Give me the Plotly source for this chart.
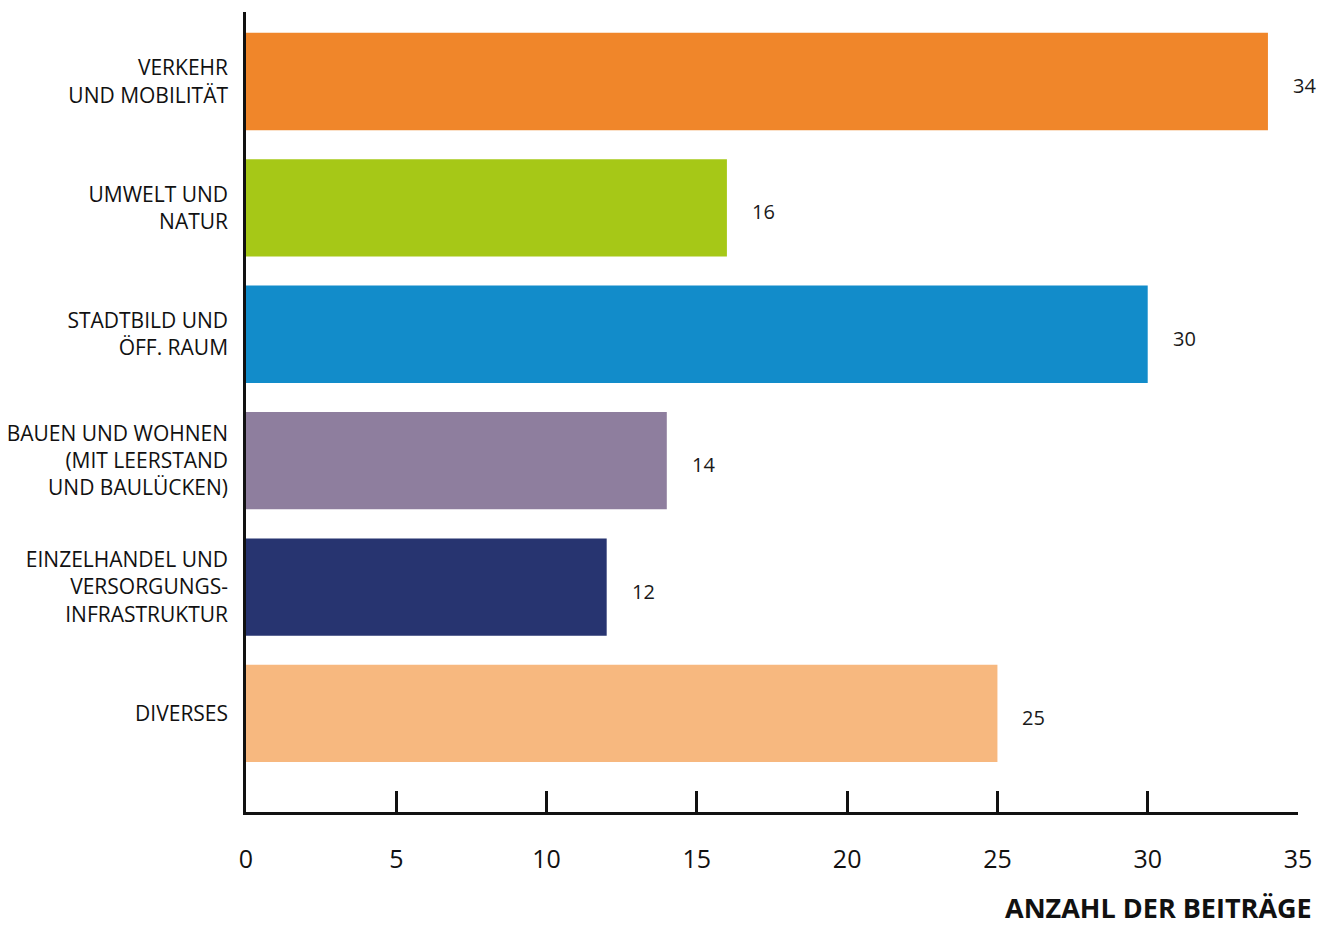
import plotly.graph_objects as go

# Themenkategorien und Anzahl der Beiträge
categories = [
    "VERKEHR<br>UND MOBILITÄT",
    "UMWELT UND<br>NATUR",
    "STADTBILD UND<br>ÖFF. RAUM",
    "BAUEN UND WOHNEN<br>(MIT LEERSTAND<br>UND BAULÜCKEN)",
    "EINZELHANDEL UND<br>VERSORGUNGS-<br>INFRASTRUKTUR",
    "DIVERSES",
]
counts = [34, 16, 30, 14, 12, 25]
colors = ["#F0862A", "#A6C817", "#128CCA", "#8E7E9E", "#273470", "#F7B87F"]
x_ticks = [0, 5, 10, 15, 20, 25, 30, 35]
axis_title = "ANZAHL DER BEITRÄGE"

FONT = "Open Sans"
positions = list(range(len(categories)))

fig = go.Figure(
    go.Bar(
        x=counts,
        y=positions,
        orientation="h",
        marker=dict(color=colors, line=dict(width=0)),
        width=0.77,
        hoverinfo="skip",
    )
)

# value labels to the right of each bar
for pos, val in zip(positions, counts):
    fig.add_annotation(
        x=val, y=pos, text=str(val), showarrow=False,
        xanchor="left", xshift=23, yshift=-4,
        font=dict(family=FONT, size=20, color="#1a1a1a"),
    )

# x-axis title, bottom right
fig.add_annotation(
    xref="paper", yref="paper", x=1.015, y=-0.119,
    text=f"<b>{axis_title}</b>", showarrow=False,
    xanchor="right", yanchor="middle",
    font=dict(family=FONT, size=27, color="#111111"),
)

fig.update_layout(
    width=1342, height=925,
    margin=dict(l=246, r=44, t=12, b=113, autoexpand=False),
    paper_bgcolor="white", plot_bgcolor="white",
    showlegend=False,
    font=dict(family=FONT, color="#111111"),
    xaxis=dict(
        range=[0, 35], tickvals=x_ticks, ticktext=[str(t) for t in x_ticks],
        showgrid=False, zeroline=False, automargin=False,
        showline=True, linecolor="#111111", linewidth=2.5,
        ticks="inside", ticklen=21, tickwidth=2.5, tickcolor="#111111",
        tickfont=dict(family=FONT, size=25, color="#111111"),
        ticklabelstandoff=23,
        fixedrange=True,
    ),
    yaxis=dict(
        range=[5.78, -0.55], tickvals=positions, ticktext=categories,
        showgrid=False, zeroline=False, automargin=False,
        showline=True, linecolor="#111111", linewidth=2.5,
        ticks="", ticklabelstandoff=11,
        tickfont=dict(family=FONT, size=21, color="#111111"),
        fixedrange=True,
    ),
)

fig.write_html("out.html")
